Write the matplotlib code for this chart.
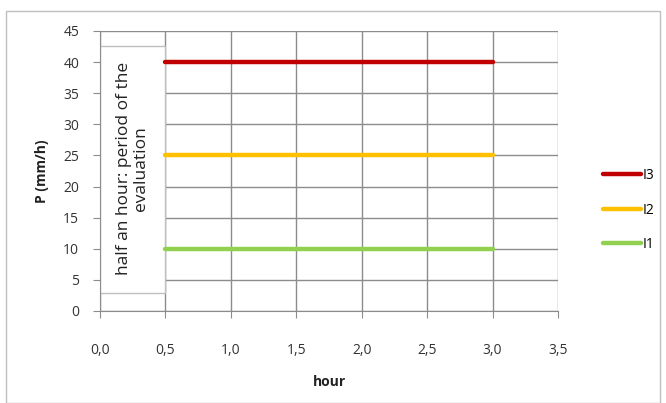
import matplotlib.pyplot as plt
import matplotlib.patches as patches

# 데이터
hours = [0.5, 3.0]
series_names = ["I3", "I2", "I1"]
series_values = [[40, 40], [25, 25], [10, 10]]
series_colors = ["#C00000", "#FFC000", "#92D050"]
x_ticks = [0.0, 0.5, 1.0, 1.5, 2.0, 2.5, 3.0, 3.5]
y_ticks = [0, 5, 10, 15, 20, 25, 30, 35, 40, 45]

plt.rcParams['font.family'] = ['Open Sans', 'DejaVu Sans']

fig = plt.figure(figsize=(6.66, 4.03), dpi=100)
fig.patches.append(patches.Rectangle((6 / 666, 0), 654 / 666, 392 / 403, transform=fig.transFigure,
                                     fill=False, edgecolor="#BFBFBF", linewidth=1))
ax = fig.add_axes([100 / 666, 1 - 311 / 403, 458 / 666, 280 / 403])

for name, vals, col in zip(series_names, series_values, series_colors):
    ax.plot(hours, vals, color=col, linewidth=3.2, solid_capstyle='round', label=name, zorder=3)

# 평가 구간 상자
ax.add_patch(patches.Rectangle((0.0, 2.9), 0.5, 39.7, facecolor='white', edgecolor='#BFBFBF',
                               linewidth=1, zorder=2))
ax.text(0.25, 22.9, "half an hour: period of the\nevaluation", rotation=90, ha='center', va='center',
        fontsize=12.5, color='#222222', zorder=4, linespacing=1.1)

ax.set_xlim(0, 3.5)
ax.set_ylim(0, 45)
ax.set_xticks(x_ticks)
ax.set_xticklabels([f"{t:.1f}".replace('.', ',') for t in x_ticks])
ax.set_yticks(y_ticks)
ax.grid(True, color='#8C8C8C', linewidth=1)
ax.set_axisbelow(True)
for s in ['top', 'right']:
    ax.spines[s].set_visible(False)
for s in ['left', 'bottom']:
    ax.spines[s].set_color('#8C8C8C')
ax.tick_params(axis='both', colors='#8C8C8C', labelcolor='#333333', labelsize=10, length=5, direction='out')
ax.tick_params(axis='x', pad=18)
ax.tick_params(axis='y', pad=10)
ax.set_xlabel("hour", fontweight='bold', fontsize=10, labelpad=12, color='#222222')
ax.set_ylabel("P (mm/h)", fontweight='bold', fontsize=10, labelpad=10, color='#222222')

leg = ax.legend(loc='center left', bbox_to_anchor=(1.07, 0.36), frameon=False, fontsize=10,
                handlelength=2.8, handletextpad=0.1, labelspacing=1.4)

fig.savefig("out.png", dpi=100)
